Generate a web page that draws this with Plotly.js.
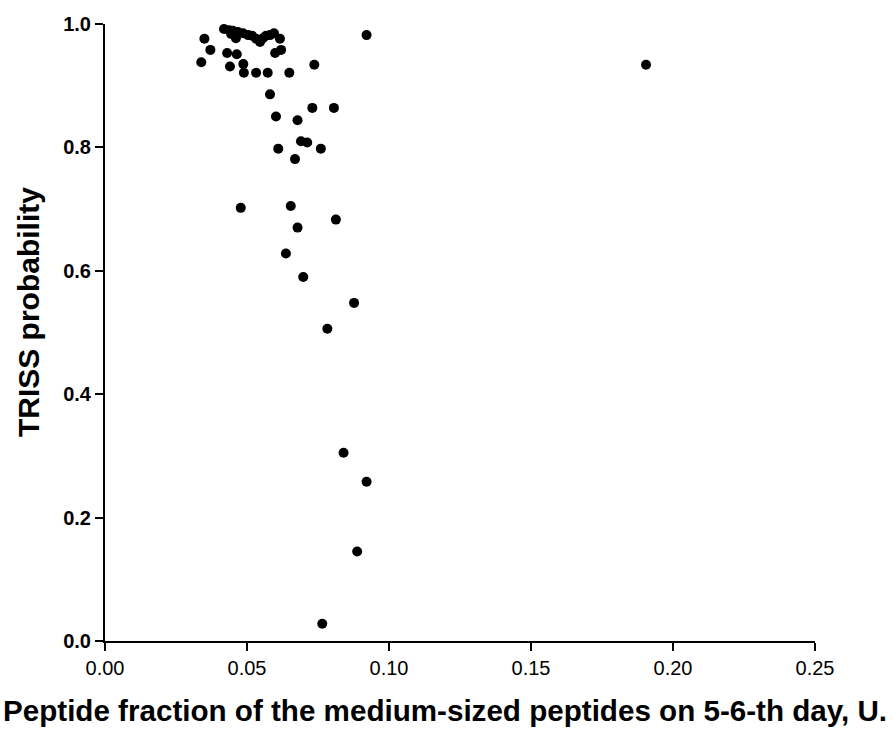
<!DOCTYPE html>
<html>
<head>
<meta charset="utf-8">
<script src="https://cdn.plot.ly/plotly-3.0.1.min.js"></script>
<style>html,body{margin:0;padding:0;background:#fff;}#chart{width:893px;height:731px;}</style>
</head>
<body>
<div id="chart"></div>
<script>
var peptideFraction = [
  0.0350, 0.0371, 0.0339, 0.0430, 0.0464, 0.0440, 0.0487, 0.0489, 0.0532, 0.0573,
  0.0649, 0.0599, 0.0620, 0.0616, 0.0921, 0.1905, 0.0581, 0.0602, 0.0678, 0.0730,
  0.0806, 0.0737, 0.0610, 0.0690, 0.0712, 0.0760, 0.0669, 0.0478, 0.0654, 0.0813,
  0.0678, 0.0637, 0.0698, 0.0877, 0.0783, 0.0840, 0.0921, 0.0888, 0.0765,
  0.0419, 0.0437, 0.0450, 0.0468, 0.0486, 0.0461, 0.0504, 0.0518, 0.0532, 0.0546,
  0.0567, 0.0581, 0.0595, 0.0556, 0.0444
];
var trissProbability = [
  0.976, 0.958, 0.938, 0.953, 0.951, 0.931, 0.935, 0.921, 0.921, 0.921,
  0.921, 0.953, 0.958, 0.976, 0.982, 0.934, 0.886, 0.850, 0.844, 0.864,
  0.864, 0.934, 0.798, 0.810, 0.808, 0.798, 0.781, 0.702, 0.705, 0.683,
  0.670, 0.628, 0.590, 0.548, 0.506, 0.305, 0.258, 0.145, 0.028,
  0.992, 0.990, 0.989, 0.987, 0.985, 0.977, 0.982, 0.981, 0.976, 0.971,
  0.981, 0.982, 0.985, 0.977, 0.984
];
var xTickVals = [0, 0.05, 0.10, 0.15, 0.20, 0.25];
var xTickText = ["0.00", "0.05", "0.10", "0.15", "0.20", "0.25"];
var yTickVals = [0, 0.2, 0.4, 0.6, 0.8, 1.0];
var yTickText = ["0.0", "0.2", "0.4", "0.6", "0.8", "1.0"];
var xTitle = 'Peptide fraction of the medium-sized peptides on 5-6-th day, U.';
var yTitle = 'TRISS probability';

var trace = {
  x: peptideFraction,
  y: trissProbability,
  type: 'scatter',
  mode: 'markers',
  marker: {color: '#000000', size: 10, line: {width: 0}},
  cliponaxis: false,
  hoverinfo: 'x+y'
};

var layout = {
  width: 893, height: 731,
  margin: {l: 105, r: 78, t: 24, b: 90},
  paper_bgcolor: '#ffffff', plot_bgcolor: '#ffffff',
  showlegend: false,
  font: {family: 'Liberation Sans, Arial, sans-serif', color: '#000'},
  xaxis: {
    range: [0, 0.25], tickvals: xTickVals, ticktext: xTickText,
    showgrid: false, zeroline: false, showline: true, linecolor: '#000', linewidth: 2,
    ticks: 'outside', ticklen: 8, tickwidth: 2, tickcolor: '#000',
    tickfont: {size: 20, family: 'Liberation Sans, Arial', color: '#000'}
  },
  yaxis: {
    range: [0, 1.0], tickvals: yTickVals, ticktext: yTickText,
    showgrid: false, zeroline: false, showline: true, linecolor: '#000', linewidth: 2,
    ticks: 'outside', ticklen: 8, tickwidth: 2, tickcolor: '#000',
    tickfont: {size: 20, family: 'Liberation Sans, Arial', color: '#000', weight: 'bold'}
  },
  annotations: [
    {text: '<b>' + xTitle + '</b>', xref: 'paper', yref: 'paper',
     x: 0.4789, y: -0.113, xanchor: 'center', yanchor: 'middle', showarrow: false,
     font: {size: 29.6, family: 'Liberation Sans, Arial', color: '#000'}},
    {text: '<b>' + yTitle + '</b>', xref: 'paper', yref: 'paper', textangle: -90,
     x: -0.1085, y: 0.533, xanchor: 'center', yanchor: 'middle', showarrow: false,
     font: {size: 30, family: 'Liberation Sans, Arial', color: '#000'}}
  ]
};

Plotly.newPlot('chart', [trace], layout, {displayModeBar: false, staticPlot: true});
</script>
</body>
</html>
